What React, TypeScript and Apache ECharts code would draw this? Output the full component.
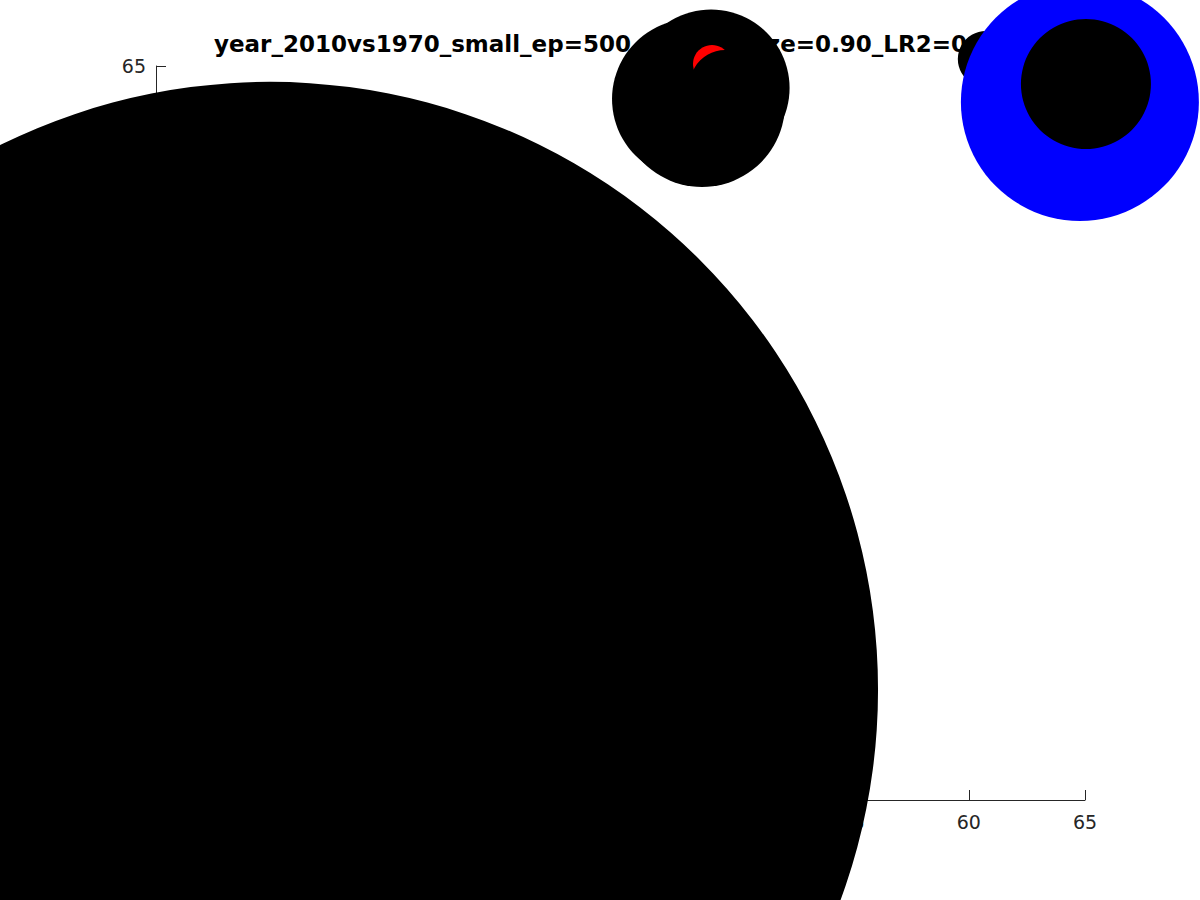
import React, { useEffect, useRef } from "react";
import * as echarts from "echarts";

const titleText = "year_2010vs1970_small_ep=500_trainingsize=0.90_LR2=0.87";
const xTicks = [25, 65];
const yTicks = [25, 65];

// [x, y, marker diameter]
const black1970: number[][] = [
  [29.91, 31.0, 1216],
  [48.08, 63.2, 160],
  [48.9, 63.8, 157],
  [48.51, 62.93, 166],
  [60.73, 65.38, 56],
];
const blueHighlight: number[][] = [[64.78, 63.04, 238]];
const redHighlight: number[][] = [[48.94, 65.11, 38]];
const black2010: number[][] = [
  [65.04, 64.02, 130],
  [49.5, 63.96, 70],
];

const FONT = "DejaVu Sans";

export default function App() {
  const ref = useRef<HTMLDivElement>(null);
  useEffect(() => {
    if (!ref.current) return;
    const chart = echarts.init(ref.current, undefined, { renderer: "svg" });
    const mk = (name: string, data: number[][], color: string, z: number) => ({
      name,
      type: "scatter",
      data,
      symbol: "circle",
      symbolSize: (v: number[]) => v[2],
      itemStyle: { color, opacity: 1 },
      clip: false,
      silent: true,
      z,
    });
    chart.setOption({
      animation: false,
      backgroundColor: "#ffffff",
      title: {
        text: titleText,
        left: 214,
        top: 32,
        padding: 0,
        z: 0,
        textStyle: { fontFamily: FONT, fontWeight: "bold", fontSize: 23, color: "#000000" },
      },
      grid: { left: 156, right: 115, top: 66, bottom: 100, containLabel: false },
      xAxis: {
        type: "value",
        min: xTicks[0],
        max: xTicks[1],
        interval: 5,
        z: 0,
        axisLine: { show: true, onZero: false, lineStyle: { color: "#262626", width: 1 } },
        axisTick: { show: true, inside: true, length: 10, lineStyle: { color: "#262626" } },
        axisLabel: { fontFamily: FONT, fontSize: 19, color: "#262626", margin: 12 },
        splitLine: { show: false },
      },
      yAxis: {
        type: "value",
        min: yTicks[0],
        max: yTicks[1],
        interval: 5,
        z: 0,
        axisLine: { show: true, onZero: false, lineStyle: { color: "#262626", width: 1 } },
        axisTick: { show: true, inside: true, length: 10, lineStyle: { color: "#262626" } },
        axisLabel: { fontFamily: FONT, fontSize: 19, color: "#262626", margin: 10 },
        splitLine: { show: false },
      },
      series: [
        mk("1970", black1970, "#000000", 2),
        mk("blue", blueHighlight, "#0000ff", 3),
        mk("red", redHighlight, "#ff0000", 4),
        mk("2010", black2010, "#000000", 5),
      ],
    });
    return () => chart.dispose();
  }, []);
  return <div ref={ref} style={{ width: 1200, height: 900, position: "absolute", left: 0, top: 0 }} />;
}
